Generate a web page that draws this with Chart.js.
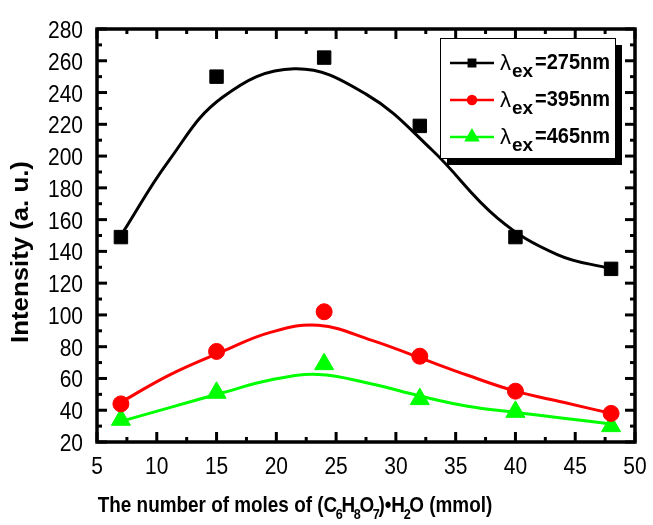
<!DOCTYPE html>
<html lang="en">
<head>
    <meta charset="UTF-8">
    <title>Intensity vs moles of citric acid</title>
    <script src="https://cdn.jsdelivr.net/npm/chart.js"></script>
    <style>
        body {
            margin: 0;
            background: #fff;
        }
        #chart {
            display: block;
        }
    </style>
</head>
<body>
    <canvas id="chart" width="653" height="525"></canvas>

    <script>
        // measured points
        const moles = [7, 15, 24, 32, 40, 48];
        const int275 = [149, 250, 262, 219, 149, 129];
        const int395 = [44, 77, 102, 74, 52, 38];
        const int465 = [34, 51, 69, 47, 39, 30];

        // fitted curves
        const fitX275 = [7, 11, 15.5, 21.5, 27.5, 33, 38.5, 43.5, 48];
        const fitY275 = [150, 197, 237, 255, 239, 204, 161, 138, 129];
        const fitX395 = [7, 11, 15.5, 19.5, 23.5, 28, 32, 36, 40, 44, 48];
        const fitY395 = [45, 62, 77, 89, 93.5, 84, 73, 62, 52, 45, 38];
        const fitX465 = [7, 11, 15.5, 19.5, 23.5, 28, 32, 36, 40, 44, 48];
        const fitY465 = [33, 41.5, 51, 59, 62.5, 56.5, 49, 42.5, 38.6, 35, 31.3];

        const xTicks = [5, 10, 15, 20, 25, 30, 35, 40, 45, 50];
        const xMinor = [7.5, 12.5, 17.5, 22.5, 27.5, 32.5, 37.5, 42.5, 47.5];
        const yTicks = [20, 40, 60, 80, 100, 120, 140, 160, 180, 200, 220, 240, 260, 280];
        const yMinor = [30, 50, 70, 90, 110, 130, 150, 170, 190, 210, 230, 250, 270];

        const legendLabels = ['=275nm', '=395nm', '=465nm'];
        const colors = ['#000000', '#ff0000', '#00ff00'];
        const styles = ['rect', 'circle', 'triangle'];

        const FONT = '"Liberation Sans", Arial, sans-serif';

        function pts(xs, ys) {
            return xs.map((x, i) => ({ x: x, y: ys[i] }));
        }

        // stretched text helper (the original figure is a bit tall)
        function text(ctx, str, x, y, sx, sy, rot) {
            ctx.save();
            ctx.translate(x, y);
            if (rot) ctx.rotate(rot);
            ctx.scale(sx, sy);
            ctx.fillText(str, 0, 0);
            ctx.restore();
        }

        const framePlugin = {
            id: 'frame',
            afterDraw(chart) {
                const ctx = chart.ctx;
                const a = chart.chartArea;
                const xs = chart.scales.x;
                const ys = chart.scales.y;

                ctx.save();
                ctx.strokeStyle = '#000';
                ctx.lineWidth = 3.5;
                ctx.strokeRect(a.left, a.top, a.right - a.left, a.bottom - a.top);

                ctx.lineWidth = 3;
                function seg(x1, y1, x2, y2) {
                    ctx.beginPath();
                    ctx.moveTo(x1, y1);
                    ctx.lineTo(x2, y2);
                    ctx.stroke();
                }
                xTicks.forEach(v => {
                    const p = xs.getPixelForValue(v);
                    seg(p, a.bottom, p, a.bottom - 10);
                    seg(p, a.top, p, a.top + 10);
                });
                xMinor.forEach(v => {
                    const p = xs.getPixelForValue(v);
                    seg(p, a.bottom, p, a.bottom - 5);
                    seg(p, a.top, p, a.top + 5);
                });
                yTicks.forEach(v => {
                    const p = ys.getPixelForValue(v);
                    seg(a.left, p, a.left + 10, p);
                    seg(a.right, p, a.right - 10, p);
                });
                yMinor.forEach(v => {
                    const p = ys.getPixelForValue(v);
                    seg(a.left, p, a.left + 5, p);
                    seg(a.right, p, a.right - 5, p);
                });

                // tick labels
                ctx.fillStyle = '#000';
                ctx.font = '21px ' + FONT;
                ctx.textAlign = 'center';
                ctx.textBaseline = 'alphabetic';
                xTicks.forEach(v => {
                    text(ctx, String(v), xs.getPixelForValue(v), 474, 1, 1.18);
                });
                ctx.textAlign = 'right';
                yTicks.forEach(v => {
                    text(ctx, String(v), 83, ys.getPixelForValue(v) + 9, 1, 1.18);
                });

                // axis titles
                ctx.font = 'bold 23px ' + FONT;
                ctx.textAlign = 'center';
                ctx.textBaseline = 'middle';
                text(ctx, 'Intensity (a. u.)', 22, 252, 1.12, 1, -Math.PI / 2);

                // x title with subscripts
                const parts = [
                    ['The number of moles of (C', 0], ['6', 1], ['H', 0], ['8', 1], ['O', 0], ['7', 1],
                    [')\u2022H', 0], ['2', 1], ['O (mmol)', 0]
                ];
                const mainFont = 'bold 21px ' + FONT;
                const subFont = 'bold 14px ' + FONT;
                let total = 0;
                parts.forEach(p => {
                    ctx.font = p[1] ? subFont : mainFont;
                    total += ctx.measureText(p[0]).width - (p[1] ? 3 : 0);
                });
                const sx = 0.9;
                ctx.save();
                ctx.translate(295 - total * sx / 2, 512);
                ctx.scale(sx, 1.07);
                ctx.textAlign = 'left';
                ctx.textBaseline = 'alphabetic';
                let cx = 0;
                parts.forEach(p => {
                    ctx.font = p[1] ? subFont : mainFont;
                    ctx.fillText(p[0], cx - (p[1] ? 1.5 : 0), p[1] ? 7 : 0);
                    cx += ctx.measureText(p[0]).width - (p[1] ? 3 : 0);
                });
                ctx.restore();

                // legend
                const bx = 440, by = 38, bw = 175, bh = 120;
                ctx.fillStyle = '#000';
                ctx.fillRect(bx + 7, by + 7, bw, bh);
                ctx.fillStyle = '#fff';
                ctx.fillRect(bx, by, bw, bh);
                ctx.lineWidth = 1;
                ctx.strokeStyle = '#000';
                ctx.strokeRect(bx + 0.5, by + 0.5, bw, bh);

                const base = [69, 106, 143];
                legendLabels.forEach((lab, i) => {
                    const yb = base[i];
                    const ym = yb - 6;
                    ctx.strokeStyle = colors[i];
                    ctx.fillStyle = colors[i];
                    ctx.lineWidth = 2.5;
                    seg(450, ym, 494, ym);
                    Chart.helpers.drawPoint(ctx, {
                        pointStyle: styles[i],
                        radius: i === 2 ? 6.5 : (i === 1 ? 4 : 4.5),
                        borderWidth: 1
                    }, 472, ym);
                    ctx.fill();

                    ctx.fillStyle = '#000';
                    ctx.textAlign = 'left';
                    ctx.textBaseline = 'alphabetic';
                    ctx.font = '22px ' + FONT;
                    ctx.fillText('\u03bb', 500, yb + 1);
                    ctx.font = 'bold 19px ' + FONT;
                    ctx.fillText('ex', 512, yb + 8);
                    ctx.font = 'bold 20px ' + FONT;
                    text(ctx, lab, 535, yb, 1, 1.08);
                });

                ctx.restore();
            }
        };

        const markerSets = [int275, int395, int465].map((vals, i) => ({
            label: '\u03bbex' + legendLabels[i],
            data: pts(moles, vals),
            showLine: false,
            pointStyle: styles[i],
            pointRadius: [9.5, 8, 11][i],
            pointBorderWidth: 1,
            backgroundColor: colors[i],
            borderColor: colors[i],
            clip: false
        }));

        const fitSets = [[fitX275, fitY275], [fitX395, fitY395], [fitX465, fitY465]].map((f, i) => ({
            label: 'fit' + i,
            data: pts(f[0], f[1]),
            showLine: true,
            pointRadius: 0,
            borderColor: colors[i],
            borderWidth: 3,
            tension: 0.4,
            fill: false
        }));

        new Chart(document.getElementById('chart'), {
            type: 'scatter',
            data: {
                datasets: markerSets.concat(fitSets)
            },
            options: {
                responsive: false,
                animation: false,
                layout: {
                    padding: { left: 97, right: 18, top: 29, bottom: 83 }
                },
                plugins: {
                    legend: { display: false },
                    tooltip: { enabled: false }
                },
                scales: {
                    x: { type: 'linear', min: 5, max: 50, display: false },
                    y: { type: 'linear', min: 20, max: 280, display: false }
                }
            },
            plugins: [framePlugin]
        });
    </script>
</body>
</html>
